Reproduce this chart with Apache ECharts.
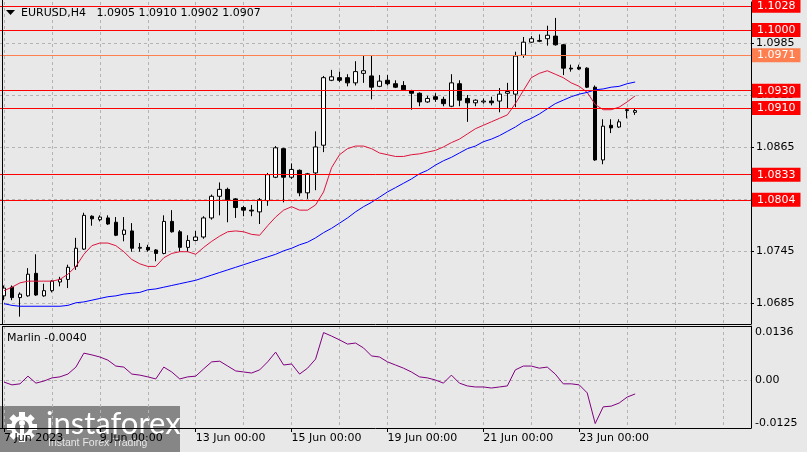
<!DOCTYPE html>
<html><head><meta charset="utf-8">
<script src="https://cdn.jsdelivr.net/npm/echarts@6/dist/echarts.min.js"></script>
<style>html,body{margin:0;padding:0;background:#e8e8e8;}#c{width:807px;height:452px;}</style>
</head><body><div id="c"></div>
<script>
const days = ['7 Jun','8 Jun','9 Jun','12 Jun','13 Jun','14 Jun','15 Jun','16 Jun','19 Jun','20 Jun','21 Jun','22 Jun','23 Jun','26 Jun','27 Jun','28 Jun'];
const hours = ['00:00','04:00','08:00','12:00','16:00','20:00'];
const slotCount = 94;
const tickIndex = [0,12,24,36,48,60,72];
const tickText = ['7 Jun 2023','9 Jun 00:00','13 Jun 00:00','15 Jun 00:00','19 Jun 00:00','21 Jun 00:00','23 Jun 00:00'];

const opens = [1.0693,1.0703,1.0691,1.0693,1.0719,1.0693,1.0699,1.0709,1.0712,1.0727,
1.0747,1.0785,1.0781,1.0783,1.0778,1.0764,1.0768,1.0748,1.0749,1.0746,
1.0742,1.0779,1.0767,1.0749,1.0757,1.0761,1.0783,1.0808,1.0816,1.0805,
1.0795,1.0792,1.0790,1.0803,1.0830,1.0863,1.0830,1.0838,1.0812,1.0835,
1.0867,1.0942,1.0945,1.0945,1.0939,1.0950,1.0947,1.0935,1.0942,1.0938,
1.0936,1.0930,1.0927,1.0917,1.0923,1.0920,1.0912,1.0938,1.0921,1.0916,
1.0917,1.0918,1.0918,1.0927,1.0926,1.0971,1.0986,1.0987,1.0990,1.0993,
1.0983,1.0956,1.0957,1.0956,1.0934,1.0850,1.0890,1.0888,1.0907,1.0905];
const highs = [1.0705,1.0705,1.0697,1.0725,1.0741,1.0707,1.0711,1.0715,1.0729,1.0760,
1.0789,1.0786,1.0786,1.0786,1.0784,1.0784,1.0777,1.0754,1.0752,1.0747,
1.0786,1.0792,1.0769,1.0763,1.0768,1.0785,1.0810,1.0824,1.0818,1.0806,
1.0797,1.0798,1.0806,1.0835,1.0866,1.0864,1.0846,1.0839,1.0835,1.0883,
1.0947,1.0954,1.0952,1.0949,1.0964,1.0970,1.0970,1.0948,1.0948,1.0942,
1.0941,1.0931,1.0928,1.0924,1.0927,1.0923,1.0949,1.0942,1.0925,1.0920,
1.0921,1.0923,1.0933,1.0939,1.0975,1.0992,1.0993,1.0995,1.1005,1.1014,
1.0984,1.0960,1.0960,1.0957,1.0936,1.0897,1.0897,1.0897,1.0910,1.0910];
const lows = [1.0688,1.0688,1.0669,1.0692,1.0693,1.0692,1.0697,1.0704,1.0702,1.0723,
1.0746,1.0774,1.0779,1.0775,1.0762,1.0756,1.0744,1.0744,1.0744,1.0733,
1.0741,1.0766,1.0744,1.0744,1.0756,1.0759,1.0781,1.0786,1.0778,1.0783,
1.0785,1.0785,1.0776,1.0797,1.0829,1.0801,1.0828,1.0808,1.0805,1.0815,
1.0859,1.0941,1.0940,1.0935,1.0936,1.0939,1.0920,1.0934,1.0936,1.0933,
1.0930,1.0908,1.0912,1.0916,1.0917,1.0912,1.0911,1.0912,1.0894,1.0912,
1.0915,1.0913,1.0905,1.0910,1.0911,1.0968,1.0985,1.0986,1.0982,1.0982,
1.0948,1.0952,1.0954,1.0933,1.0849,1.0845,1.0881,1.0887,1.0898,1.0902];
const closes = [1.0702,1.0691,1.0695,1.0718,1.0694,1.0699,1.0710,1.0712,1.0726,1.0748,
1.0786,1.0782,1.0784,1.0776,1.0763,1.0769,1.0748,1.0749,1.0746,1.0742,
1.0779,1.0767,1.0749,1.0757,1.0761,1.0783,1.0808,1.0816,1.0804,1.0795,
1.0792,1.0791,1.0804,1.0833,1.0864,1.0830,1.0839,1.0812,1.0834,1.0865,
1.0945,1.0946,1.0942,1.0939,1.0952,1.0953,1.0934,1.0941,1.0938,1.0934,
1.0931,1.0927,1.0917,1.0921,1.0920,1.0915,1.0939,1.0919,1.0916,1.0919,
1.0918,1.0916,1.0926,1.0929,1.0970,1.0986,1.0990,1.0988,1.0994,1.0983,
1.0956,1.0955,1.0955,1.0934,1.0850,1.0889,1.0887,1.0894,1.0908,1.0907];

const maFast = [1.0699,1.0703,1.0708,1.0710,1.0710,1.0710,1.0710,1.0712,1.0718,1.0727,
1.0741,1.0751,1.0754,1.0754,1.0751,1.0744,1.0735,1.0730,1.0727,1.0727,
1.0737,1.0742,1.0744,1.0744,1.0741,1.0749,1.0756,1.0762,1.0767,1.0768,
1.0767,1.0764,1.0763,1.0774,1.0784,1.0792,1.0796,1.0792,1.0792,1.0798,
1.0813,1.0841,1.0856,1.0863,1.0866,1.0866,1.0863,1.0858,1.0856,1.0854,
1.0854,1.0856,1.0857,1.0859,1.0861,1.0865,1.0870,1.0874,1.0880,1.0886,
1.0890,1.0894,1.0898,1.0902,1.0915,1.0930,1.0945,1.0950,1.0953,1.0949,
1.0945,1.0939,1.0935,1.0928,1.0914,1.0908,1.0908,1.0911,1.0917,1.0924];
const maSlow = [1.0684,1.0682,1.0681,1.0681,1.0681,1.0681,1.0681,1.0681,1.0682,1.0685,
1.0686,1.0688,1.0690,1.0692,1.0693,1.0695,1.0696,1.0697,1.0700,1.0701,
1.0703,1.0705,1.0707,1.0709,1.0711,1.0714,1.0717,1.0720,1.0723,1.0726,
1.0729,1.0732,1.0735,1.0738,1.0741,1.0745,1.0748,1.0752,1.0755,1.0760,
1.0766,1.0771,1.0777,1.0783,1.0790,1.0796,1.0801,1.0807,1.0813,1.0818,
1.0823,1.0828,1.0834,1.0838,1.0844,1.0849,1.0853,1.0858,1.0863,1.0866,
1.0871,1.0874,1.0878,1.0883,1.0888,1.0894,1.0898,1.0903,1.0909,1.0915,
1.0919,1.0923,1.0926,1.0928,1.0931,1.0932,1.0934,1.0935,1.0938,1.0940];
const marlin = [-0.0006,-0.0014,-0.0011,0.0011,-0.0009,-0.0003,0.0006,0.0009,0.0017,0.0037,
0.0077,0.0072,0.0066,0.0057,0.0040,0.0037,0.0017,0.0014,0.0009,0.0003,
0.0037,0.0023,0.0003,0.0009,0.0011,0.0032,0.0052,0.0054,0.0040,0.0026,
0.0023,0.0020,0.0029,0.0052,0.0080,0.0043,0.0046,0.0017,0.0034,0.0060,
0.0136,0.0126,0.0115,0.0103,0.0106,0.0092,0.0069,0.0066,0.0052,0.0043,
0.0034,0.0023,0.0009,0.0006,0.0000,-0.0009,0.0014,-0.0009,-0.0017,-0.0020,
-0.0020,-0.0023,-0.0020,-0.0017,0.0029,0.0040,0.0040,0.0034,0.0037,0.0017,
-0.0011,-0.0011,-0.0014,-0.0037,-0.0125,-0.0077,-0.0075,-0.0066,-0.0049,-0.0040];

const priceTicks = [1.0685,1.0745,1.0805,1.0865,1.0925,1.0985];
const marlinTicks = [-0.0125,0,0.0136];
const marlinGrid = [0];
const levels = [1.1028,1.1000,1.0971,1.0930,1.0910,1.0833,1.0804];
const levelColors = ['#ff0000','#ff0000','#ff7f50','#ff0000','#ff0000','#ff0000','#ff0000'];
const lastPrice = 1.0907;
const symbolName = 'EURUSD,H4';
const indicatorName = 'Marlin';

const categories = days.flatMap(d => hours.map(h => d + ' ' + h)).slice(0, slotCount);
const candles = opens.map((o, i) => [o, closes[i], lows[i], highs[i]]);
const n = opens.length;
const titleText = symbolName + '   ' + [opens[n-1], highs[n-1], lows[n-1], closes[n-1]].map(v => v.toFixed(4)).join(' ');
const marlinText = indicatorName + ' ' + marlin[n-1].toFixed(4);

const gridColor = '#b4b4b4';
const showTick = i => tickIndex.indexOf(i) >= 0;
function xAxisFor(gi) {
  return {
    type: 'category', gridIndex: gi, data: categories, boundaryGap: true,
    axisLine: {show: true, onZero: false, lineStyle: {color: '#000', width: 1}},
    axisTick: {show: gi === 1, alignWithLabel: true, length: 4, interval: showTick, lineStyle: {color: '#000'}},
    axisLabel: {show: gi === 1, interval: showTick, formatter: (v, i) => tickText[tickIndex.indexOf(i)] || '',
      align: 'left', margin: 5, fontFamily: 'DejaVu Sans', fontSize: 11, color: '#000'},
    splitLine: {show: true, alignWithLabel: true, interval: i => i % 6 === 0, lineStyle: {color: gridColor, type: [3, 3], width: 1}}
  };
}

const chart = echarts.init(document.getElementById('c'), null, {renderer: 'canvas'});
const option = {
  backgroundColor: '#e8e8e8',
  animation: false,
  grid: [
    {left: 0, top: 2, width: 751, height: 322},
    {left: 0, top: 326, width: 751, height: 102}
  ],
  xAxis: [xAxisFor(0), xAxisFor(1)],
  yAxis: [
    {type: 'value', gridIndex: 0, position: 'right', min: 1.06605, max: 1.10324,
      axisLine: {show: true, onZero: false, lineStyle: {color: '#000'}},
      axisTick: {show: true, length: 3, customValues: priceTicks, lineStyle: {color: '#000'}},
      axisLabel: {customValues: priceTicks, formatter: v => v.toFixed(4), margin: 5, fontFamily: 'DejaVu Sans', fontSize: 11, color: '#000'},
      splitLine: {show: true, lineStyle: {color: gridColor, type: [3, 3]}}
    },
    {type: 'value', gridIndex: 1, position: 'right', min: -0.01377, max: 0.01549,
      axisLine: {show: true, onZero: false, lineStyle: {color: '#000'}},
      axisTick: {show: false, customValues: marlinGrid},
      axisLabel: {customValues: marlinTicks, formatter: v => v === 0 ? '0.00' : v.toFixed(4), margin: 4, fontFamily: 'DejaVu Sans', fontSize: 11, color: '#000'},
      splitLine: {show: true, lineStyle: {color: gridColor, type: [3, 3]}}
    }
  ],
  series: [
    {type: 'candlestick', xAxisIndex: 0, yAxisIndex: 0, data: candles, barWidth: 4,
      itemStyle: {color: '#ffffff', color0: '#000000', borderColor: '#000000', borderColor0: '#000000', borderWidth: 1},
      markLine: {silent: true, symbol: ['none', 'none'], animation: false, precision: 4,
        label: {show: true, position: 'end', distance: 1, formatter: p => Number(p.value).toFixed(4),
          color: '#fff', fontFamily: 'DejaVu Sans', fontSize: 11, padding: [1, 5, 0, 5], lineHeight: 13},
        data: [{yAxis: lastPrice, lineStyle: {opacity: 0}, label: {backgroundColor: '#000'}}].concat(
          levels.map((v, k) => ({yAxis: v, lineStyle: {color: levelColors[k], width: 1, type: 'solid'}, label: {backgroundColor: levelColors[k]}})))
      }
    },
    {type: 'line', xAxisIndex: 0, yAxisIndex: 0, data: maFast, symbol: 'none', lineStyle: {color: '#dc143c', width: 1}, z: 3},
    {type: 'line', xAxisIndex: 0, yAxisIndex: 0, data: maSlow, symbol: 'none', lineStyle: {color: '#0000ff', width: 1}, z: 3},
    {type: 'line', xAxisIndex: 1, yAxisIndex: 1, data: marlin, symbol: 'none', lineStyle: {color: '#800080', width: 1}}
  ],
  graphic: [
    {type: 'line', z: 100, shape: {x1: 2.5, y1: 0, x2: 2.5, y2: 324}, style: {stroke: '#000', lineWidth: 1}},
    {type: 'line', z: 100, shape: {x1: 2.5, y1: 326, x2: 2.5, y2: 428}, style: {stroke: '#000', lineWidth: 1}},
    {type: 'line', z: 100, shape: {x1: 2, y1: 326.5, x2: 752, y2: 326.5}, style: {stroke: '#000', lineWidth: 1}},
    {type: 'polygon', z: 100, shape: {points: [[6, 10], [15, 10], [10.5, 15]]}, style: {fill: '#000'}},
    {type: 'text', z: 100, x: 21, y: 13, style: {text: titleText, fill: '#000', fontFamily: 'DejaVu Sans', fontSize: 11, verticalAlign: 'middle', align: 'left'}},
    {type: 'text', z: 100, x: 7, y: 338, style: {text: marlinText, fill: '#000', fontFamily: 'DejaVu Sans', fontSize: 11, verticalAlign: 'middle', align: 'left'}},
    {type: 'group', z: 200, children: [
      {type: 'rect', shape: {x: 0, y: 406, width: 180, height: 46}, style: {fill: 'rgba(120,120,120,0.88)'}},
      {type: 'group', x: 22, y: 427, children: [
        {type: 'group', rotation: 0, children: [{type: 'rect', shape: {x: -3, y: -15, width: 6, height: 7}, style: {fill: '#fff'}}]},
        {type: 'group', rotation: Math.PI / 4, children: [{type: 'rect', shape: {x: -3, y: -15, width: 6, height: 7}, style: {fill: '#fff'}}]},
        {type: 'group', rotation: Math.PI / 2, children: [{type: 'rect', shape: {x: -3, y: -15, width: 6, height: 7}, style: {fill: '#fff'}}]},
        {type: 'group', rotation: 3 * Math.PI / 4, children: [{type: 'rect', shape: {x: -3, y: -15, width: 6, height: 7}, style: {fill: '#fff'}}]},
        {type: 'group', rotation: Math.PI, children: [{type: 'rect', shape: {x: -3, y: -15, width: 6, height: 7}, style: {fill: '#fff'}}]},
        {type: 'group', rotation: 5 * Math.PI / 4, children: [{type: 'rect', shape: {x: -3, y: -15, width: 6, height: 7}, style: {fill: '#fff'}}]},
        {type: 'group', rotation: 3 * Math.PI / 2, children: [{type: 'rect', shape: {x: -3, y: -15, width: 6, height: 7}, style: {fill: '#fff'}}]},
        {type: 'group', rotation: 7 * Math.PI / 4, children: [{type: 'rect', shape: {x: -3, y: -15, width: 6, height: 7}, style: {fill: '#fff'}}]},
        {type: 'circle', shape: {cx: 0, cy: 0, r: 11}, style: {fill: '#fff'}},
        {type: 'circle', shape: {cx: 0, cy: 0, r: 7}, style: {fill: '#787878'}},
        {type: 'circle', shape: {cx: 0, cy: -4, r: 3}, style: {fill: '#fff'}},
        {type: 'rect', shape: {x: -2, y: -1, width: 4, height: 13}, style: {fill: '#fff'}}
      ]},
      {type: 'text', x: 46, y: 424, style: {text: 'instaforex', fill: '#fff', fontFamily: 'Lato', fontSize: 31, verticalAlign: 'middle', align: 'left'}},
      {type: 'text', x: 48, y: 443, style: {text: 'Instant Forex Trading', fill: '#e6e6e6', fontFamily: 'Liberation Sans', fontSize: 10.5, verticalAlign: 'middle', align: 'left'}}
    ]}
  ]
};
chart.setOption(option);
</script></body></html>
